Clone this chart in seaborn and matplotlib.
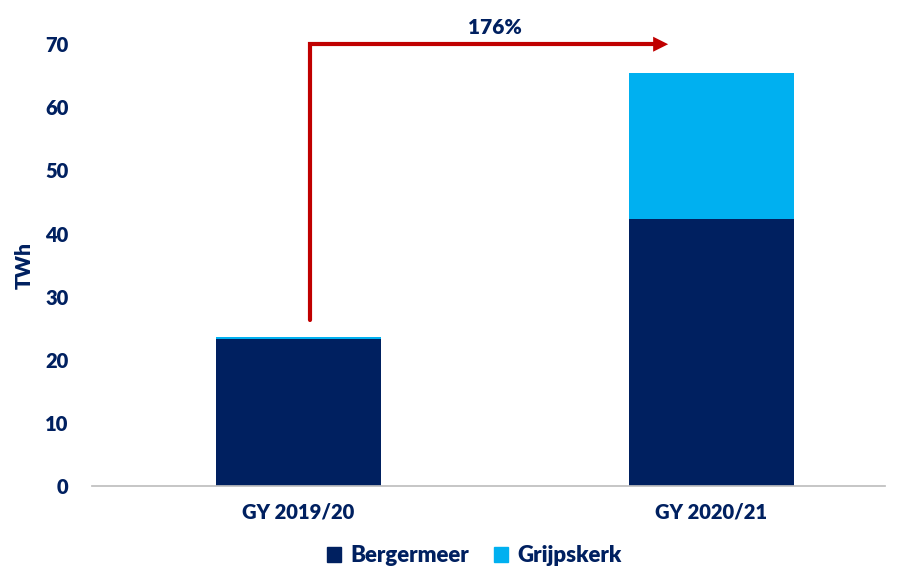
import numpy as np
import matplotlib.pyplot as plt
import seaborn as sns
import pandas as pd
from matplotlib.patches import Patch

# values (TWh)
years = ['GY 2019/20', 'GY 2020/21']
bergermeer = [23.3, 42.3]
grijpskerk = [0.3, 23.1]
growth_label = '176%'

navy = '#002060'
light = '#00B0F0'
W = 'heavy'

sns.set_theme(style='white')
plt.rcParams['font.family'] = ['Lato', 'DejaVu Sans']
plt.rcParams['font.weight'] = W

df = pd.DataFrame({'year': years, 'Bergermeer': bergermeer, 'Grijpskerk': grijpskerk})
df['total'] = df['Bergermeer'] + df['Grijpskerk']

fig = plt.figure(figsize=(9.03, 5.67), dpi=100)
ax = fig.add_axes([0.102, 0.143, 0.878, 0.779])

sns.barplot(data=df, x='year', y='total', color=light, width=0.4, ax=ax,
            saturation=1, linewidth=0)
sns.barplot(data=df, x='year', y='Bergermeer', color=navy, width=0.4, ax=ax,
            saturation=1, linewidth=0)

ax.set_xlim(-0.5, 1.42)
ax.set_ylim(0, 70)
ax.set_yticks(range(0, 71, 10))
ax.tick_params(axis='both', length=0, labelsize=14.5, labelcolor=navy)
ax.tick_params(axis='y', pad=17)
ax.tick_params(axis='x', pad=12)
ax.set_xlabel('')
ax.set_ylabel('TWh', fontsize=15, color=navy, fontweight=W, labelpad=8)
for lab in ax.get_xticklabels() + ax.get_yticklabels():
    lab.set_fontweight(W)

sns.despine(ax=ax, left=True)
ax.spines['bottom'].set_color('#bfbfbf')

# growth arrow
ax.plot([0.027, 0.027, 0.86], [26.3, 70, 70], color='#C00000', lw=3,
        clip_on=False, solid_joinstyle='miter')
ax.annotate('', xy=(0.895, 70), xytext=(0.85, 70),
            arrowprops=dict(arrowstyle='-|>,head_length=0.9,head_width=0.45',
                            color='#C00000', lw=0, shrinkA=0, shrinkB=0),
            annotation_clip=False)
ax.text(0.475, 72.6, growth_label, ha='center', va='center', fontsize=15,
        color=navy, fontweight=W, clip_on=False)

handles = [Patch(color=navy, label='Bergermeer'), Patch(color=light, label='Grijpskerk')]
leg = fig.legend(handles=handles, loc='center', bbox_to_anchor=(0.525, 0.02), ncol=2,
                 frameon=False, fontsize=16, handlelength=0.65, handleheight=0.65,
                 columnspacing=1.1, handletextpad=0.4)
for t in leg.get_texts():
    t.set_color(navy)
    t.set_fontweight(W)

fig.savefig('out.png', dpi=100)
